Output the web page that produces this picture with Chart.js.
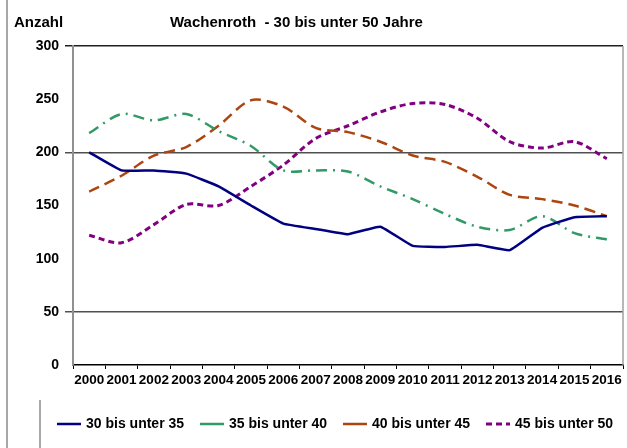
<!DOCTYPE html>
<html>
<head>
<meta charset="utf-8">
<script src="https://cdn.jsdelivr.net/npm/chart.js@4/dist/chart.umd.min.js"></script>
<style>
  html, body { margin: 0; padding: 0; background: #fff; }
  #wrap { width: 627px; height: 448px; }
</style>
</head>
<body>
<div id="wrap"><canvas id="chart" width="627" height="448"></canvas></div>
<script>
const years = ["2000","2001","2002","2003","2004","2005","2006","2007","2008",
               "2009","2010","2011","2012","2013","2014","2015","2016"];
const seriesNames = ["30 bis unter 35", "35 bis unter 40", "40 bis unter 45", "45 bis unter 50"];
const age30to35 = [200, 183, 183, 180, 168, 150, 133, 128, 123, 130, 112, 111, 113, 108, 129, 139, 140];
const age35to40 = [218, 236, 230, 236, 220, 206, 183, 183, 182, 168, 156, 142, 130, 127, 140, 124, 118];
const age40to45 = [163, 178, 197, 205, 225, 249, 243, 223, 219, 210, 197, 191, 177, 160, 156, 150, 140];
const age45to50 = [122, 115, 132, 151, 150, 168, 188, 213, 225, 238, 246, 245, 232, 210, 204, 210, 194];
const yTicks = [0, 50, 100, 150, 200, 250, 300];
const gridValues = [300, 200, 50];

const FONT = "'Liberation Sans', Arial, sans-serif";

// short legend lines: only the dotted one shows its dashes in the original
const legendDash = [[], [], [], [6, 4]];

// frame lines, headings and the legend row, drawn like in the original sheet
const framePlugin = {
  id: 'frame',
  afterDraw(chart) {
    const ctx = chart.ctx;
    const a = chart.chartArea;
    ctx.save();
    ctx.strokeStyle = '#a8a8a8';
    ctx.lineWidth = 2;
    ctx.beginPath();
    ctx.moveTo(7, 0); ctx.lineTo(7, 448);
    ctx.moveTo(40, 400); ctx.lineTo(40, 448);
    ctx.stroke();
    ctx.strokeStyle = '#a0a0a0';
    ctx.lineWidth = 1.5;
    ctx.beginPath();
    ctx.moveTo(a.right, a.top); ctx.lineTo(a.right, a.bottom);
    ctx.stroke();

    ctx.fillStyle = '#000';
    ctx.textBaseline = 'middle';
    ctx.font = 'bold 15px ' + FONT;
    ctx.fillText('Anzahl', 14, 23);
    ctx.fillText('Wachenroth  - 30 bis unter 50 Jahre', 170, 23);

    //legend
    ctx.font = 'bold 14px ' + FONT;
    chart.data.datasets.forEach((ds, i) => {
      const x = 57 + i * 143;
      const y = 424;
      ctx.strokeStyle = ds.borderColor;
      ctx.lineWidth = ds.borderWidth;
      ctx.setLineDash(legendDash[i]);
      ctx.beginPath();
      ctx.moveTo(x, y); ctx.lineTo(x + 24, y);
      ctx.stroke();
      ctx.setLineDash([]);
      ctx.fillText(ds.label, x + 29, y);
    });
    ctx.restore();
  }
};

const gridColor = ctx => {
  const v = ctx.tick && ctx.tick.value;
  if (v === 300) return '#202020';
  if (gridValues.includes(v)) return '#505050';
  return 'rgba(0,0,0,0)';
};

new Chart(document.getElementById('chart'), {
  type: 'line',
  data: {
    labels: years,
    datasets: [
      {
        label: seriesNames[0],
        data: age30to35,
        borderColor: '#000080',
        backgroundColor: '#000080',
        borderWidth: 2.5,
        tension: 0.1
      },
      {
        label: seriesNames[1],
        data: age35to40,
        borderColor: '#339966',
        backgroundColor: '#339966',
        borderWidth: 2.5,
        borderDash: [11, 6, 2, 6],
        tension: 0.3
      },
      {
        label: seriesNames[2],
        data: age40to45,
        borderColor: '#ad4510',
        backgroundColor: '#ad4510',
        borderWidth: 2.5,
        borderDash: [11, 6],
        tension: 0.3
      },
      {
        label: seriesNames[3],
        data: age45to50,
        borderColor: '#800080',
        backgroundColor: '#800080',
        borderWidth: 3,
        borderDash: [6, 4],
        tension: 0.3
      }
    ]
  },
  options: {
    responsive: false,
    animation: false,
    layout: { padding: { left: 30, right: 4, top: 46, bottom: 45 } },
    elements: { point: { radius: 0 } },
    plugins: {
      title: { display: false },
      tooltip: { enabled: false },
      legend: { display: false }
    },
    scales: {
      x: {
        offset: true,
        afterFit: s => { s.height = 38; },
        border: { display: true, color: '#000', width: 1.5 },
        grid: { offset: true, drawOnChartArea: false, color: '#000', tickLength: 4 },
        ticks: {
          color: '#000',
          padding: 3,
          maxRotation: 0,
          autoSkip: false,
          font: { family: FONT, size: 13.5, weight: 'bold' }
        }
      },
      y: {
        min: 0,
        max: 300,
        afterFit: s => { s.width = 43; },
        afterBuildTicks: s => { s.ticks = yTicks.map(v => ({ value: v })); },
        border: { display: true, color: '#909090', width: 2 },
        grid: { color: gridColor, lineWidth: 1.5, tickLength: 8 },
        ticks: {
          color: '#000',
          padding: 6,
          font: { family: FONT, size: 14, weight: 'bold' }
        }
      }
    }
  },
  plugins: [framePlugin]
});
</script>
</body>
</html>
